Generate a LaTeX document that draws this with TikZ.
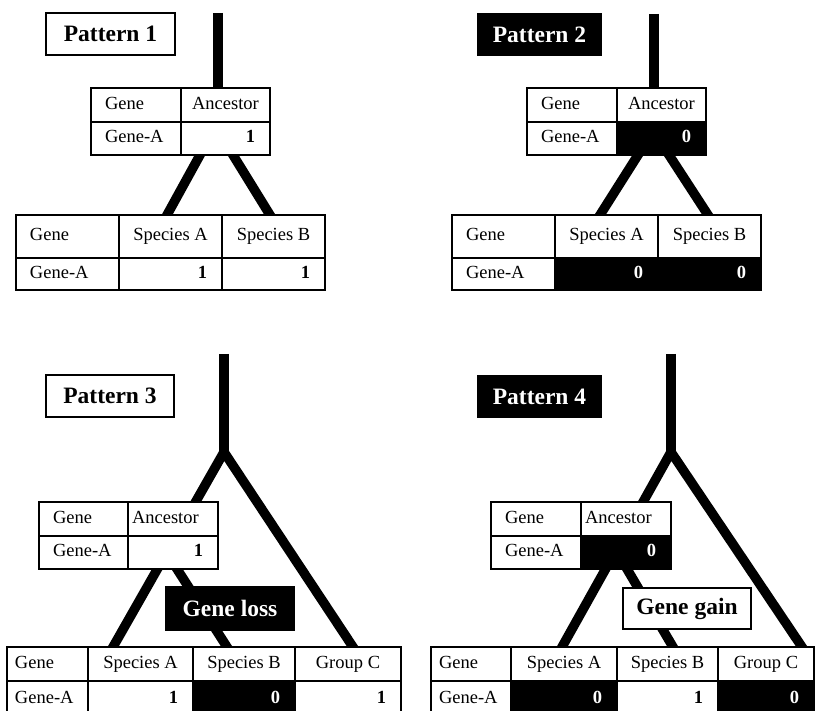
\documentclass[tikz,border=0pt]{standalone}
\usepackage{fontspec}
\setmainfont{Liberation Serif}
\usepackage{tikz}

\newcommand{\tabfont}{\fontsize{18.5}{20}\selectfont}
\newcommand{\tagfont}{\fontsize{23.5}{26}\selectfont\bfseries}

\begin{document}
\begin{tikzpicture}[x=1pt, y=-1pt,
  branch/.style={line width=9.5pt, line join=round},
  into/.style={shorten <=-4pt, shorten >=-4pt},
  cell/.style={draw, line width=1.2pt, fill=white, anchor=north west, outer sep=0pt,
    inner xsep=14pt, inner ysep=0pt, text height=13pt, text depth=4pt, font=\tabfont},
  lcell/.style={cell, text width=#1, align=left},
  rcell/.style={cell, inner xsep=15pt, text width=#1, align=right, font=\tabfont\bfseries},
  ccell/.style={cell, inner xsep=0pt, minimum width=#1},
  dark/.style={fill=black, text=white},
  tag/.style={draw, line width=1.2pt, fill=white, anchor=north west, outer sep=0pt,
    inner sep=0pt, font=\tagfont}]
  \useasboundingbox (0,0) rectangle (815,711);
  \clip (0,0) rectangle (815,711);

  % Pattern 1
  \coordinate (p1top) at (218,13);
  \coordinate (p1root) at (218,92);
  \coordinate (p1al) at (200,155);
  \coordinate (p1ar) at (233,155);
  \coordinate (p1sa) at (167,215);
  \coordinate (p1sb) at (270,215);
  \draw[branch] (p1top) -- (p1root);
  \draw[branch, into] (p1al) -- (p1sa);
  \draw[branch, into] (p1ar) -- (p1sb);
  \node[tag, minimum width=129pt, minimum height=42pt] (p1tag) at (46,13) {Pattern 1};
  \node[lcell=62pt, minimum height=34pt] (p1a11) at (91,88) {Gene};
  \node[ccell=89pt, minimum height=34pt] (p1a12) at (181,88) {Ancestor};
  \node[lcell=62pt, minimum height=33pt] (p1a21) at (91,122) {Gene-A};
  \node[rcell=59pt, minimum height=33pt] (p1a22) at (181,122) {1};
  \node[lcell=75pt, minimum height=43pt] (p1b11) at (16,215) {Gene};
  \node[ccell=103pt, minimum height=43pt] (p1b12) at (119,215) {Species A};
  \node[ccell=103pt, minimum height=43pt] (p1b13) at (222,215) {Species B};
  \node[lcell=75pt, minimum height=32pt] (p1b21) at (16,258) {Gene-A};
  \node[rcell=73pt, minimum height=32pt] (p1b22) at (119,258) {1};
  \node[rcell=73pt, minimum height=32pt] (p1b23) at (222,258) {1};

  % Pattern 2
  \coordinate (p2top) at (654,14);
  \coordinate (p2root) at (654,92);
  \coordinate (p2al) at (638,155);
  \coordinate (p2ar) at (669,155);
  \coordinate (p2sa) at (600,215);
  \coordinate (p2sb) at (708,215);
  \draw[branch] (p2top) -- (p2root);
  \draw[branch, into] (p2al) -- (p2sa);
  \draw[branch, into] (p2ar) -- (p2sb);
  \node[tag, dark, minimum width=123pt, minimum height=41pt] (p2tag) at (478,14) {Pattern 2};
  \node[lcell=62pt, minimum height=34pt] (p2a11) at (527,88) {Gene};
  \node[ccell=89pt, minimum height=34pt] (p2a12) at (617,88) {Ancestor};
  \node[lcell=62pt, minimum height=33pt] (p2a21) at (527,122) {Gene-A};
  \node[rcell=59pt, dark, minimum height=33pt] (p2a22) at (617,122) {0};
  \node[lcell=75pt, minimum height=43pt] (p2b11) at (452,215) {Gene};
  \node[ccell=103pt, minimum height=43pt] (p2b12) at (555,215) {Species A};
  \node[ccell=103pt, minimum height=43pt] (p2b13) at (658,215) {Species B};
  \node[lcell=75pt, minimum height=32pt] (p2b21) at (452,258) {Gene-A};
  \node[rcell=73pt, dark, minimum height=32pt] (p2b22) at (555,258) {0};
  \node[rcell=73pt, dark, minimum height=32pt] (p2b23) at (658,258) {0};

  % Pattern 3
  \coordinate (p3top) at (224,354);
  \coordinate (p3fork) at (224,452);
  \coordinate (p3sa) at (113,647);
  \coordinate (p3gc) at (353,647);
  \coordinate (p3al) at (177,569);
  \coordinate (p3sb) at (227,647);
  \draw[branch] (p3top) -- (p3fork);
  \draw[branch, into] (p3sa) -- (p3fork) -- (p3gc);
  \draw[branch, into] (p3al) -- (p3sb);
  \node[tag, minimum width=128pt, minimum height=42pt] (p3tag) at (46,375) {Pattern 3};
  \node[lcell=61pt, minimum height=34pt] (p3a11) at (39,502) {Gene};
  \node[lcell=82pt, inner xsep=4pt, minimum height=34pt] (p3a12) at (128,502) {Ancestor};
  \node[lcell=61pt, minimum height=33pt] (p3a21) at (39,536) {Gene-A};
  \node[rcell=60pt, minimum height=33pt] (p3a22) at (128,536) {1};
  \node[tag, dark, minimum width=128pt, minimum height=43pt] (p3loss) at (166,587) {Gene loss};
  \node[lcell=65pt, inner xsep=8pt, minimum height=34pt] (p3b11) at (7,647) {Gene};
  \node[ccell=105pt, minimum height=34pt] (p3b12) at (88,647) {Species A};
  \node[ccell=102pt, minimum height=34pt] (p3b13) at (193,647) {Species B};
  \node[ccell=106pt, minimum height=34pt] (p3b14) at (295,647) {Group C};
  \node[lcell=65pt, inner xsep=8pt, minimum height=36pt] (p3b21) at (7,681) {Gene-A};
  \node[rcell=75pt, minimum height=36pt] (p3b22) at (88,681) {1};
  \node[rcell=72pt, dark, minimum height=36pt] (p3b23) at (193,681) {0};
  \node[rcell=76pt, minimum height=36pt] (p3b24) at (295,681) {1};

  % Pattern 4
  \coordinate (p4top) at (671,354);
  \coordinate (p4fork) at (671,452);
  \coordinate (p4sa) at (562,647);
  \coordinate (p4gc) at (802,647);
  \coordinate (p4al) at (627,569);
  \coordinate (p4sb) at (673,647);
  \draw[branch] (p4top) -- (p4fork);
  \draw[branch, into] (p4sa) -- (p4fork) -- (p4gc);
  \draw[branch, into] (p4al) -- (p4sb);
  \node[tag, dark, minimum width=123pt, minimum height=41pt] (p4tag) at (478,376) {Pattern 4};
  \node[lcell=62pt, minimum height=34pt] (p4a11) at (491,502) {Gene};
  \node[lcell=82pt, inner xsep=4pt, minimum height=34pt] (p4a12) at (581,502) {Ancestor};
  \node[lcell=62pt, minimum height=33pt] (p4a21) at (491,536) {Gene-A};
  \node[rcell=60pt, dark, minimum height=33pt] (p4a22) at (581,536) {0};
  \node[tag, minimum width=128pt, minimum height=41pt] (p4gain) at (623,588) {Gene gain};
  \node[lcell=64pt, inner xsep=8pt, minimum height=34pt] (p4b11) at (431,647) {Gene};
  \node[ccell=106pt, minimum height=34pt] (p4b12) at (511,647) {Species A};
  \node[ccell=101pt, minimum height=34pt] (p4b13) at (617,647) {Species B};
  \node[ccell=96pt, minimum height=34pt] (p4b14) at (718,647) {Group C};
  \node[lcell=64pt, inner xsep=8pt, minimum height=36pt] (p4b21) at (431,681) {Gene-A};
  \node[rcell=76pt, dark, minimum height=36pt] (p4b22) at (511,681) {0};
  \node[rcell=71pt, minimum height=36pt] (p4b23) at (617,681) {1};
  \node[rcell=66pt, dark, minimum height=36pt] (p4b24) at (718,681) {0};
\end{tikzpicture}
\end{document}
